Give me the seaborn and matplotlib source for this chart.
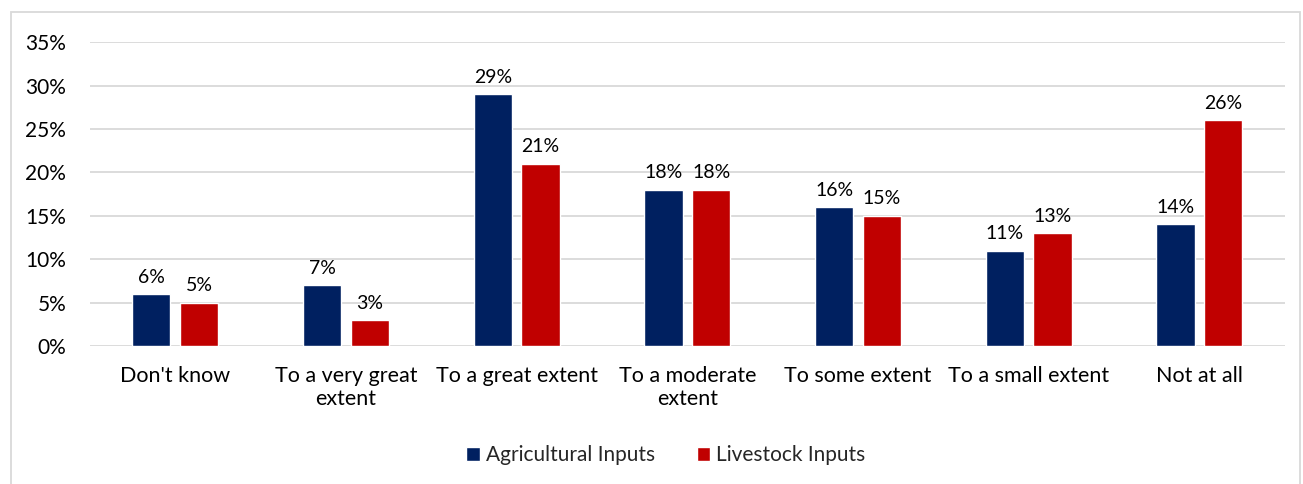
import matplotlib
matplotlib.use("Agg")
import matplotlib.pyplot as plt
from matplotlib.patches import Rectangle
from matplotlib.ticker import PercentFormatter
import seaborn as sns
import pandas as pd

categories = ["Don't know", "To a very great\nextent", "To a great extent",
              "To a moderate\nextent", "To some extent", "To a small extent",
              "Not at all"]
agricultural = [6, 7, 29, 18, 16, 11, 14]
livestock = [5, 3, 21, 18, 15, 13, 26]
series_names = ["Agricultural Inputs", "Livestock Inputs"]
palette = {"Agricultural Inputs": "#002060", "Livestock Inputs": "#C00000"}
y_ticks = [0, 5, 10, 15, 20, 25, 30, 35]

df = pd.DataFrame({
    "category": categories * 2,
    "series": [series_names[0]] * len(categories) + [series_names[1]] * len(categories),
    "value": agricultural + livestock,
})

sns.set_theme(style="white")
plt.rcParams["font.family"] = ["Lato", "DejaVu Sans"]

fig = plt.figure(figsize=(13.03, 4.84), dpi=100)
ax = fig.add_axes([0.069, 0.285, 0.917, 0.628])

sns.barplot(data=df, x="category", y="value", hue="series", order=categories,
            hue_order=series_names, palette=palette, width=0.56, gap=0.2,
            saturation=1, ax=ax, legend=True, errorbar=None)

for container in ax.containers:
    ax.bar_label(container, labels=[f"{v:.0f}%" for v in container.datavalues],
                 padding=6, fontsize=14, color="#000000")

ax.set_ylim(0, 35)
ax.set_yticks(y_ticks)
ax.yaxis.set_major_formatter(PercentFormatter(decimals=0))
ax.set_xlim(-0.5, len(categories) - 0.5)
ax.grid(axis="y", color="#D9D9D9", linewidth=1.3)
ax.set_axisbelow(True)
for side in ["top", "right", "left", "bottom"]:
    ax.spines[side].set_visible(False)
ax.set_xlabel("")
ax.set_ylabel("")
ax.tick_params(axis="x", length=0, pad=14, labelsize=15.5, colors="#000000")
ax.tick_params(axis="y", length=0, pad=17, labelsize=15, colors="#000000")
for lbl in ax.get_xticklabels():
    lbl.set_linespacing(1.2)

handles, labels = ax.get_legend_handles_labels()
ax.legend_.remove()
fig.legend(handles, labels, loc="center", bbox_to_anchor=(0.511, 0.06), ncol=2,
           frameon=False, fontsize=15, handlelength=0.65, handleheight=0.65,
           handletextpad=0.3, columnspacing=2.0)

fig.patches.append(Rectangle((11 / 1303, -0.01), (1300 - 11) / 1303, 1 - 12 / 484 + 0.01,
                             transform=fig.transFigure, fill=False,
                             edgecolor="#D9D9D9", linewidth=1.3))

fig.savefig("out.png", dpi=100)
